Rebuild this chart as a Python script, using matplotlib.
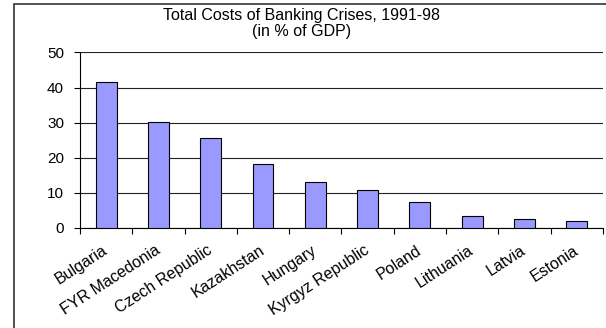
import numpy as np
import matplotlib.pyplot as plt
import matplotlib.transforms as mtransforms
from matplotlib.patches import Rectangle

plt.rcParams["font.family"] = ["Liberation Sans", "DejaVu Sans"]

countries = ["Bulgaria", "FYR Macedonia", "Czech Republic", "Kazakhstan", "Hungary",
             "Kyrgyz Republic", "Poland", "Lithuania", "Latvia", "Estonia"]
costs = [41.5, 30.2, 25.5, 18.3, 13.0, 10.7, 7.2, 3.2, 2.6, 1.8]
yticks = [0, 10, 20, 30, 40, 50]

fig = plt.figure(figsize=(6.06, 3.28), dpi=100)
ax = fig.add_axes([0.132, 0.306, 0.863, 0.534])

x = np.arange(len(countries))
ax.bar(x, costs, width=0.4, color="#9999FF", edgecolor="black", linewidth=0.8, zorder=3)

ax.set_xlim(-0.5, len(countries) - 0.5)
ax.set_ylim(0, 50)
ax.set_yticks(yticks)
ax.yaxis.grid(True, color="#222222", linewidth=0.8, zorder=0)
ax.tick_params(axis="y", labelsize=11, length=4.5, width=0.8, direction="out", pad=7)

# x ticks sit between categories, labels at the centres
ax.set_xticks(np.arange(len(countries) + 1) - 0.5)
ax.set_xticklabels([])
ax.set_xticks(x, minor=True)
ax.set_xticklabels(countries, minor=True, rotation=33, ha="right", va="top",
                   rotation_mode="anchor", fontsize=11.5)
ax.tick_params(axis="x", which="major", length=4, width=0.8, direction="out")
ax.tick_params(axis="x", which="minor", length=0, pad=11)
shift = mtransforms.ScaledTranslation(-4 / 100, 0, fig.dpi_scale_trans)
for lbl in ax.get_xticklabels(minor=True):
    lbl.set_transform(lbl.get_transform() + shift)

for side in ["top", "right"]:
    ax.spines[side].set_visible(False)
ax.spines["left"].set_linewidth(0.8)
ax.spines["bottom"].set_linewidth(0.8)

fig.text(0.498, 0.975, "Total Costs of Banking Crises, 1991-98\n(in % of GDP)",
         ha="center", va="top", fontsize=11.5, linespacing=1.05)

fig.patches.append(Rectangle((14 / 606, -0.02), 1.0, 1 - 4 / 328 + 0.02,
                             transform=fig.transFigure, fill=False,
                             edgecolor="#333333", linewidth=1.2))

fig.savefig("out.png", dpi=100)
